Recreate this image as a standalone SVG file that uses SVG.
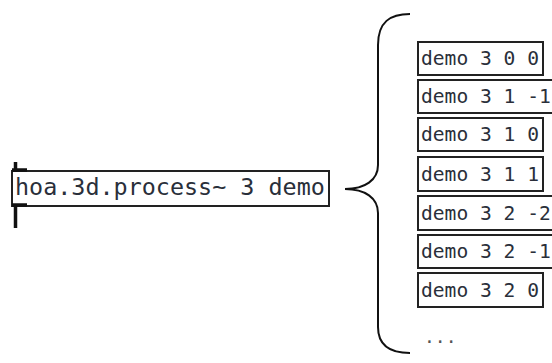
<svg xmlns="http://www.w3.org/2000/svg" width="552" height="363" viewBox="0 0 552 363">
  <style>
    .box { fill: #ffffff; stroke: #222222; stroke-width: 2; }
    .port { stroke: #111111; stroke-width: 3.5; fill: none; }
    .main { font-family: "DejaVu Sans Mono", "Liberation Mono", monospace; font-size: 23.4px; fill: #2a2f3a; }
    .msg { font-family: "DejaVu Sans Mono", "Liberation Mono", monospace; font-size: 19.6px; fill: #2a2f3a; }
    .dots { font-family: "DejaVu Sans Mono", "Liberation Mono", monospace; font-size: 18px; fill: #555555; }
    .brace { fill: none; stroke: #111111; stroke-width: 2; }
  </style>
  <rect width="552" height="363" fill="#ffffff"/>
  <g id="connectors">
    <path class="brace" d="M410,14 C390,14 378,22 378,45 L378,165 C378,180 365,189 345,189 C365,189 378,198 378,213 L378,327 C378,345 390,353 410,353"/>
  </g>
  <g id="process">
    <rect class="box" x="12" y="171" width="317" height="35"/>
    <path class="port" d="M15.5,162 V172 M12,170 H27 M12,205 H27 M15.5,205 V228"/>
    <text class="main" x="15" y="195">hoa.3d.process~ 3 demo</text>
  </g>
  <g id="msg-3-0-0">
    <rect class="box" x="418" y="42" width="125" height="33"/>
    <text class="msg" x="421" y="65">demo 3 0 0</text>
  </g>
  <g id="msg-3-1-m1">
    <rect class="box" x="418" y="80" width="138" height="33"/>
    <text class="msg" x="421" y="103">demo 3 1 -1</text>
  </g>
  <g id="msg-3-1-0">
    <rect class="box" x="418" y="118" width="125" height="33"/>
    <text class="msg" x="421" y="141">demo 3 1 0</text>
  </g>
  <g id="msg-3-1-1">
    <rect class="box" x="418" y="157" width="125" height="34"/>
    <text class="msg" x="421" y="181">demo 3 1 1</text>
  </g>
  <g id="msg-3-2-m2">
    <rect class="box" x="418" y="196" width="138" height="34"/>
    <text class="msg" x="421" y="220">demo 3 2 -2</text>
  </g>
  <g id="msg-3-2-m1">
    <rect class="box" x="418" y="235" width="138" height="33"/>
    <text class="msg" x="421" y="258">demo 3 2 -1</text>
  </g>
  <g id="msg-3-2-0">
    <rect class="box" x="418" y="273" width="125" height="34"/>
    <text class="msg" x="421" y="297">demo 3 2 0</text>
  </g>
  <g id="ellipsis">
    <text class="dots" x="424" y="343">...</text>
  </g>
</svg>
